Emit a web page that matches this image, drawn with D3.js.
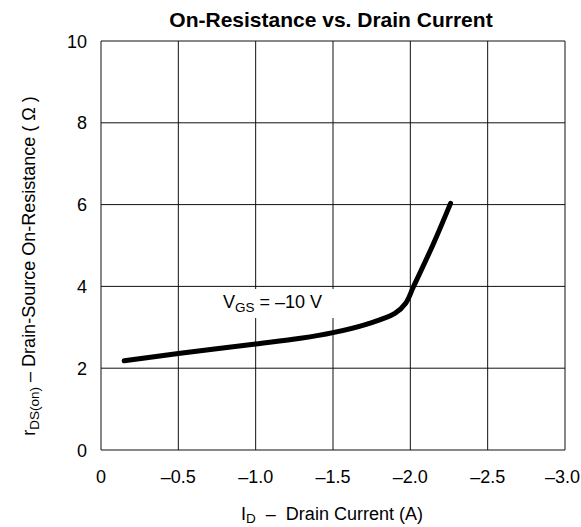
<!DOCTYPE html>
<html>
<head>
<meta charset="utf-8">
<script src="https://cdn.jsdelivr.net/npm/d3@7"></script>
<style>
  body { margin: 0; background: #fff; }
  text { font-family: "Liberation Sans", Arial, sans-serif; fill: #000; white-space: pre; }
</style>
</head>
<body>
<div id="chart"></div>
<script>
// values
const currentA = [-0.15, -0.5, -1.0, -1.29, -1.5, -1.72, -1.9, -1.97, -2.02, -2.15, -2.26];
const rdsOn = [2.18, 2.36, 2.59, 2.73, 2.87, 3.08, 3.34, 3.59, 3.99, 5.05, 6.03];
const xTicks = [0, -0.5, -1.0, -1.5, -2.0, -2.5, -3.0];
const yTicks = [0, 2, 4, 6, 8, 10];

const width = 581, height = 527;
const margin = {top: 41, right: 16, bottom: 77, left: 101};
const w = width - margin.left - margin.right,
  h = height - margin.top - margin.bottom;

const x = d3.scaleLinear().domain([0, -3]).range([0, w]);
const y = d3.scaleLinear().domain([0, 10]).range([h, 0]);

const fmt = v => v === 0 ? "0" : "\u2013" + Math.abs(v).toFixed(1);

let svg = d3.select("#chart").append("svg")
  .attr("width", width)
  .attr("height", height);

let g = svg.append("g")
  .attr("transform", `translate(${margin.left}, ${margin.top})`);

// grid
g.selectAll(".vg").data(xTicks).enter().append("line")
  .attr("x1", d => x(d)).attr("x2", d => x(d))
  .attr("y1", 0).attr("y2", h)
  .attr("stroke", "#111").attr("stroke-width", 1);
g.selectAll(".hg").data(yTicks).enter().append("line")
  .attr("x1", 0).attr("x2", w)
  .attr("y1", d => y(d)).attr("y2", d => y(d))
  .attr("stroke", "#111").attr("stroke-width", 1);

// tick labels (keep the last one inside the page)
g.selectAll(".xl").data(xTicks).enter().append("text")
  .attr("x", d => x(d)).attr("y", h + 33)
  .attr("text-anchor", "middle")
  .style("font-size", "18px")
  .text(fmt)
  .each(function(d) {
    let half = this.getComputedTextLength() / 2;
    let over = margin.left + x(d) + half - (width - 1);
    if (over > 0) d3.select(this).attr("x", x(d) - over);
  });
g.selectAll(".yl").data(yTicks).enter().append("text")
  .attr("x", -14).attr("y", d => y(d) + 6.5)
  .attr("text-anchor", "end")
  .style("font-size", "18px")
  .text(d => d);

// label with white backing
let lab = g.append("text")
  .attr("x", 122).attr("y", 267)
  .style("font-size", "18px");
lab.append("tspan").text("V");
lab.append("tspan").attr("dy", 4).style("font-size", "13.5px").text("GS");
lab.append("tspan").attr("dy", -4).text(" = \u201310 V");
let bb = lab.node().getBBox();
g.insert("rect", "text")
  .attr("x", bb.x - 8).attr("y", bb.y - 3)
  .attr("width", bb.width + 20).attr("height", bb.height + 6)
  .attr("fill", "#fff");

// curve
let line = d3.line()
  .x((d, i) => x(currentA[i]))
  .y(d => y(d))
  .curve(d3.curveCatmullRom);
g.append("path")
  .datum(rdsOn)
  .attr("d", line)
  .attr("fill", "none")
  .attr("stroke", "#000")
  .attr("stroke-width", 5)
  .attr("stroke-linecap", "round")
  .attr("stroke-linejoin", "round");

// title
svg.append("text")
  .attr("x", 331).attr("y", 27)
  .attr("text-anchor", "middle")
  .style("font-size", "21px").style("font-weight", "bold")
  .text("On-Resistance vs. Drain Current");

// x title
let xt = svg.append("text")
  .attr("x", 332).attr("y", 520)
  .attr("text-anchor", "middle")
  .style("font-size", "18px");
xt.append("tspan").text("I");
xt.append("tspan").attr("dy", 3).style("font-size", "13.5px").text("D");
xt.append("tspan").attr("dy", -3).text("  \u2013  Drain Current (A)");

// y title
let yt = svg.append("text")
  .attr("transform", "translate(35, 266) rotate(-90)")
  .attr("text-anchor", "middle")
  .style("font-size", "18px");
yt.append("tspan").text("r");
yt.append("tspan").attr("dy", 4).style("font-size", "13.5px").text("DS(on)");
yt.append("tspan").attr("dy", -4).text(" \u2013 Drain-Source On-Resistance ( \u03A9 )");
</script>
</body>
</html>
